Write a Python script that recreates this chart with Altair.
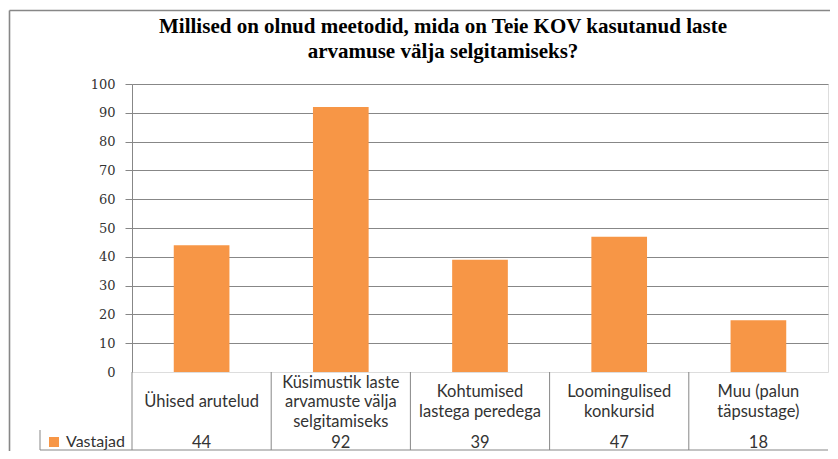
import altair as alt
import pandas as pd

categories = ["Ühised arutelud", "Küsimustik laste arvamuste välja selgitamiseks",
              "Kohtumised lastega peredega", "Loomingulised konkursid", "Muu (palun täpsustage)"]
label_lines = [["Ühised arutelud"], ["Küsimustik laste", "arvamuste välja", "selgitamiseks"],
               ["Kohtumised", "lastega peredega"], ["Loomingulised", "konkursid"],
               ["Muu (palun", "täpsustage)"]]
values = [44, 92, 39, 47, 18]
series_name = "Vastajad"
y_ticks = list(range(0, 101, 10))
title_lines = ["Millised on olnud meetodid, mida on Teie KOV kasutanud laste",
               "arvamuse välja selgitamiseks?"]

ORANGE = "#F79646"
GRAY = "#878787"
TXT = "#333333"
LH = 19.5

df = pd.DataFrame({"cat": categories, "lines": label_lines, "value": values,
                   "series": [series_name] * len(categories)})
one = pd.DataFrame({"k": [0]})

xenc = alt.X("cat:N", sort=categories, axis=None,
             scale=alt.Scale(paddingInner=0, paddingOuter=0))

bars = alt.Chart(df).mark_bar(width=alt.RelativeBandSize(0.4)).encode(
    x=xenc,
    y=alt.Y("value:Q", scale=alt.Scale(domain=[0, 100], nice=False),
            axis=alt.Axis(values=y_ticks, title=None, grid=True, gridColor=GRAY,
                          gridOpacity={"condition": {"test": "datum.value === 0", "value": 0}, "value": 1},
                          tickOpacity={"condition": {"test": "datum.value === 0", "value": 0}, "value": 1},
                          domainColor=GRAY, tickColor=GRAY, tickSize=7,
                          labelFont="DejaVu Serif", labelFontSize=13, labelColor=TXT,
                          labelPadding=10)),
    color=alt.Color("series:N", scale=alt.Scale(range=[ORANGE]),
                    legend=alt.Legend(orient="none", legendX=-86, legendY=350, title=None,
                                      symbolType="square", symbolSize=100, symbolStrokeWidth=0,
                                      labelFont="Lato", labelFontSize=16, labelColor=TXT,
                                      padding=0, labelOffset=4)),
)

cat_text = alt.Chart(df).mark_text(font="Lato", fontSize=16.5, lineHeight=LH,
                                   baseline="middle", color=TXT,
                                   dy=alt.ExprRef(f"-(length(datum.lines)-1)*{LH/2}")).encode(
    x=xenc, y=alt.value(318), text=alt.Text("lines:N"))

val_text = alt.Chart(df).mark_text(font="Lato", fontSize=16.5, baseline="middle",
                                   color=TXT).encode(
    x=xenc, y=alt.value(359), text=alt.Text("value:Q"))

seps = alt.Chart(df).mark_rule(color=GRAY, strokeWidth=1).encode(
    x=alt.X("cat:N", sort=categories, bandPosition=0, axis=None),
    y=alt.value(288), y2=alt.value(366))

bottom_line = alt.Chart(one).mark_rule(color=GRAY, strokeWidth=1).encode(
    x=alt.value(-92), x2=alt.value(696), y=alt.value(366))
legend_cell = alt.Chart(one).mark_rule(color=GRAY, strokeWidth=1).encode(
    x=alt.value(-92), y=alt.value(346), y2=alt.value(366))
border_left = alt.Chart(one).mark_rule(color=GRAY, strokeWidth=1.6).encode(
    x=alt.value(-122.5), y=alt.value(-73.5), y2=alt.value(368))
border_top = alt.Chart(one).mark_rule(color=GRAY, strokeWidth=1.6).encode(
    x=alt.value(-122.5), x2=alt.value(700), y=alt.value(-73.5))

chart = alt.layer(border_left, border_top, seps, bottom_line, legend_cell,
                  bars, cat_text, val_text).properties(
    width=696, height=288,
    title=alt.TitleParams(title_lines, font="Liberation Serif", fontSize=21,
                          fontWeight="bold", color="#000000", lineHeight=25,
                          anchor="middle", dx=-37, offset=-52),
    autosize=alt.AutoSizeParams(type="none"),
    padding={"left": 124, "top": 76, "right": 2, "bottom": 79},
).configure_view(strokeWidth=0).configure(background="white")

chart.save("out.html", embed_options={"renderer": "svg", "actions": False})
